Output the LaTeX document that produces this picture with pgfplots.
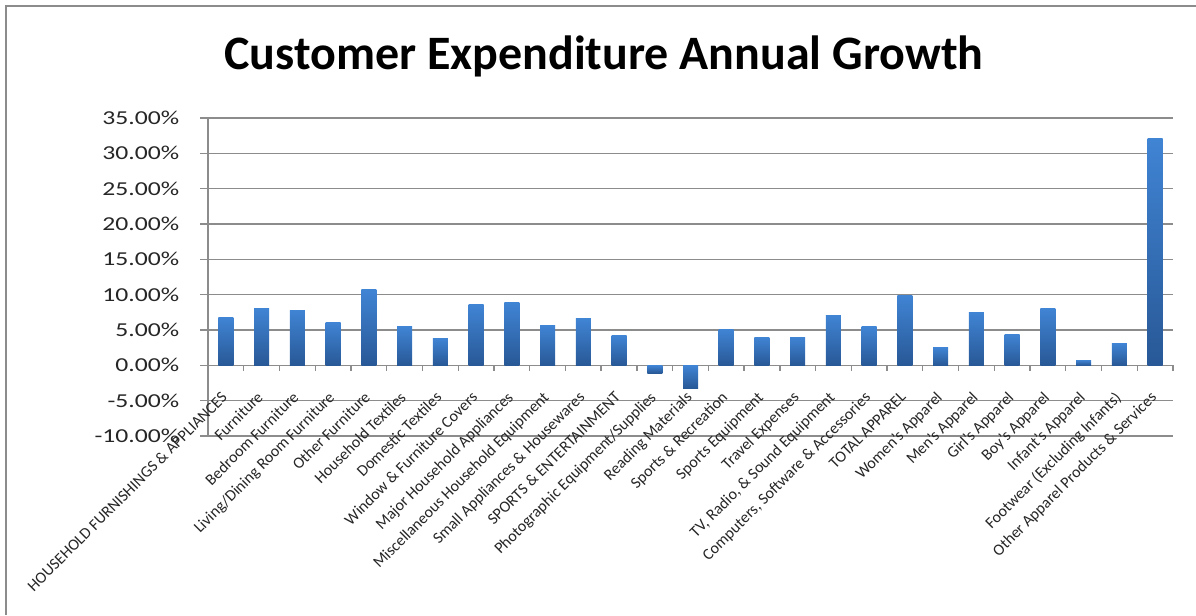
\documentclass[border=0pt]{standalone}
\usepackage{fontspec}
\setmainfont{Carlito}
\newfontfamily\tickfont[FakeStretch=1.3]{Carlito}
\usepackage{pgfplots}
\pgfplotsset{compat=1.18}
\definecolor{barTop}{RGB}{64,132,212}
\definecolor{barBot}{RGB}{40,88,150}
\definecolor{gridc}{RGB}{140,140,140}
\pgfplotsset{bstyle/.style={ybar, bar width=11.25pt, draw=none, top color=barTop, bottom color=barBot}}
\begin{document}
\begin{tikzpicture}
\path[use as bounding box] (0pt,0pt) rectangle (897pt,461.25pt);
\draw[gridc, line width=1.5pt] (4.5pt,0pt) -- (4.5pt,456.75pt) -- (897pt,456.75pt);
\node[anchor=base, font=\bfseries\fontsize{36}{40}\selectfont, inner sep=0pt] at (453pt,408.75pt) {Customer Expenditure Annual Growth};
\begin{axis}[at={(156pt,134.25pt)}, anchor=south west, scale only axis,
  width=723.75pt, height=238.5pt,
  xmin=-0.5, xmax=26.5, ymin=-10, ymax=35,
  axis x line=middle, axis y line=left,
  axis line style={-, gridc, line width=1pt},
  ymajorgrids, grid style={gridc, line width=1pt},
  tick align=outside,
  major tick length=6pt, minor tick length=4pt,
  major x tick style={draw=none},
  minor x tick style={gridc, line width=1pt},
  y tick style={gridc, line width=1pt},
  minor xtick={0.5,1.5,...,26.5},
  ytick={-10,-5,...,35},
  yticklabels={-10.00\%,-5.00\%,0.00\%,5.00\%,10.00\%,15.00\%,20.00\%,25.00\%,30.00\%,35.00\%},
  yticklabel style={font=\tickfont\fontsize{14.8}{16}\selectfont, text=black!85, xshift=-12pt},
  xtick={0,...,26},
  xticklabels={HOUSEHOLD FURNISHINGS \& APPLIANCES, Furniture, Bedroom Furniture, Living/Dining Room Furniture, Other Furniture, Household Textiles, Domestic Textiles, Window \& Furniture Covers, Major Household Appliances, Miscellaneous Household Equipment, Small Appliances \& Housewares, SPORTS \& ENTERTAINMENT, Photographic Equipment/Supplies, Reading Materials, Sports \& Recreation, Sports Equipment, Travel Expenses, {TV, Radio, \& Sound Equipment}, {Computers, Software \& Accessories}, TOTAL APPAREL, Women’s Apparel, Men’s Apparel, Girl’s Apparel, Boy’s Apparel, Infant’s Apparel, Footwear (Excluding Infants), Other Apparel Products \& Services},
  xticklabel style={font=\fontsize{12}{13}\selectfont, rotate=45, anchor=north east, inner sep=0pt, xshift=-12pt, yshift=-6pt, text=black!85},
]
\addplot[bstyle] coordinates {(0,6.76)};
\addplot[bstyle] coordinates {(1,8.03)};
\addplot[bstyle] coordinates {(2,7.83)};
\addplot[bstyle] coordinates {(3,6.05)};
\addplot[bstyle] coordinates {(4,10.72)};
\addplot[bstyle] coordinates {(5,5.43)};
\addplot[bstyle] coordinates {(6,3.78)};
\addplot[bstyle] coordinates {(7,8.54)};
\addplot[bstyle] coordinates {(8,8.88)};
\addplot[bstyle] coordinates {(9,5.62)};
\addplot[bstyle] coordinates {(10,6.56)};
\addplot[bstyle] coordinates {(11,4.20)};
\addplot[bstyle] coordinates {(12,-1.09)};
\addplot[bstyle] coordinates {(13,-3.26)};
\addplot[bstyle] coordinates {(14,5.06)};
\addplot[bstyle] coordinates {(15,4.00)};
\addplot[bstyle] coordinates {(16,4.00)};
\addplot[bstyle] coordinates {(17,7.08)};
\addplot[bstyle] coordinates {(18,5.43)};
\addplot[bstyle] coordinates {(19,9.92)};
\addplot[bstyle] coordinates {(20,2.50)};
\addplot[bstyle] coordinates {(21,7.46)};
\addplot[bstyle] coordinates {(22,4.35)};
\addplot[bstyle] coordinates {(23,8.03)};
\addplot[bstyle] coordinates {(24,0.75)};
\addplot[bstyle] coordinates {(25,3.07)};
\addplot[bstyle] coordinates {(26,32.1)};
\end{axis}
\end{tikzpicture}
\end{document}
